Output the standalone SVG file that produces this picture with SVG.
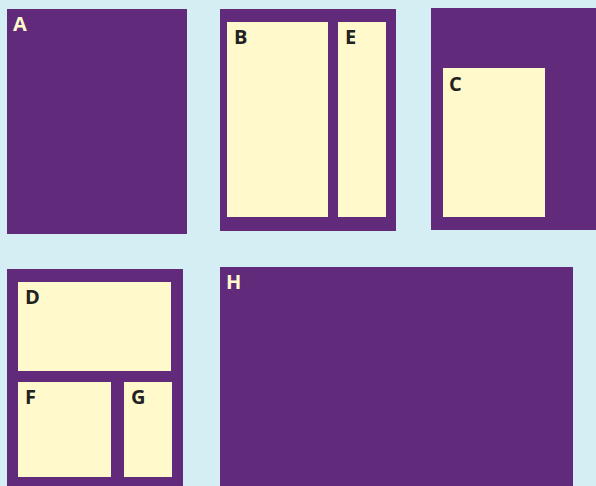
<svg xmlns="http://www.w3.org/2000/svg" width="596" height="486" viewBox="0 0 596 486">
<style>
.box{fill:#612a7b}
.in{fill:#fff9cc}
.lbl{font-family:"Open Sans","Noto Sans",sans-serif;font-weight:bold;font-size:20px}
.lo{fill:#fff9cc}
.li{fill:#222222}
</style>
<rect width="596" height="486" fill="#d5eef3"/>
<g id="A">
<rect class="box" x="7" y="9" width="180" height="225"/>
<text class="lbl lo" x="13" y="31">A</text>
</g>
<g id="BE-container">
<rect class="box" x="220" y="9" width="176" height="222"/>
</g>
<g id="B">
<rect class="in" x="227" y="22" width="101" height="195"/>
<text class="lbl li" x="234" y="44">B</text>
</g>
<g id="E">
<rect class="in" x="338" y="22" width="48" height="195"/>
<text class="lbl li" x="345" y="44">E</text>
</g>
<g id="C-container">
<rect class="box" x="431" y="8" width="165" height="222"/>
</g>
<g id="C">
<rect class="in" x="443" y="68" width="102" height="149"/>
<text class="lbl li" x="449" y="91">C</text>
</g>
<g id="DFG-container">
<rect class="box" x="7" y="269" width="176" height="220"/>
</g>
<g id="D">
<rect class="in" x="18" y="282" width="153" height="89"/>
<text class="lbl li" x="25" y="304">D</text>
</g>
<g id="F">
<rect class="in" x="18" y="382" width="93" height="95"/>
<text class="lbl li" x="25" y="404">F</text>
</g>
<g id="G">
<rect class="in" x="124" y="382" width="48" height="95"/>
<text class="lbl li" x="131" y="404">G</text>
</g>
<g id="H">
<rect class="box" x="220" y="267" width="353" height="222"/>
<text class="lbl lo" x="226" y="289">H</text>
</g>
<g id="connectors"></g>
</svg>
